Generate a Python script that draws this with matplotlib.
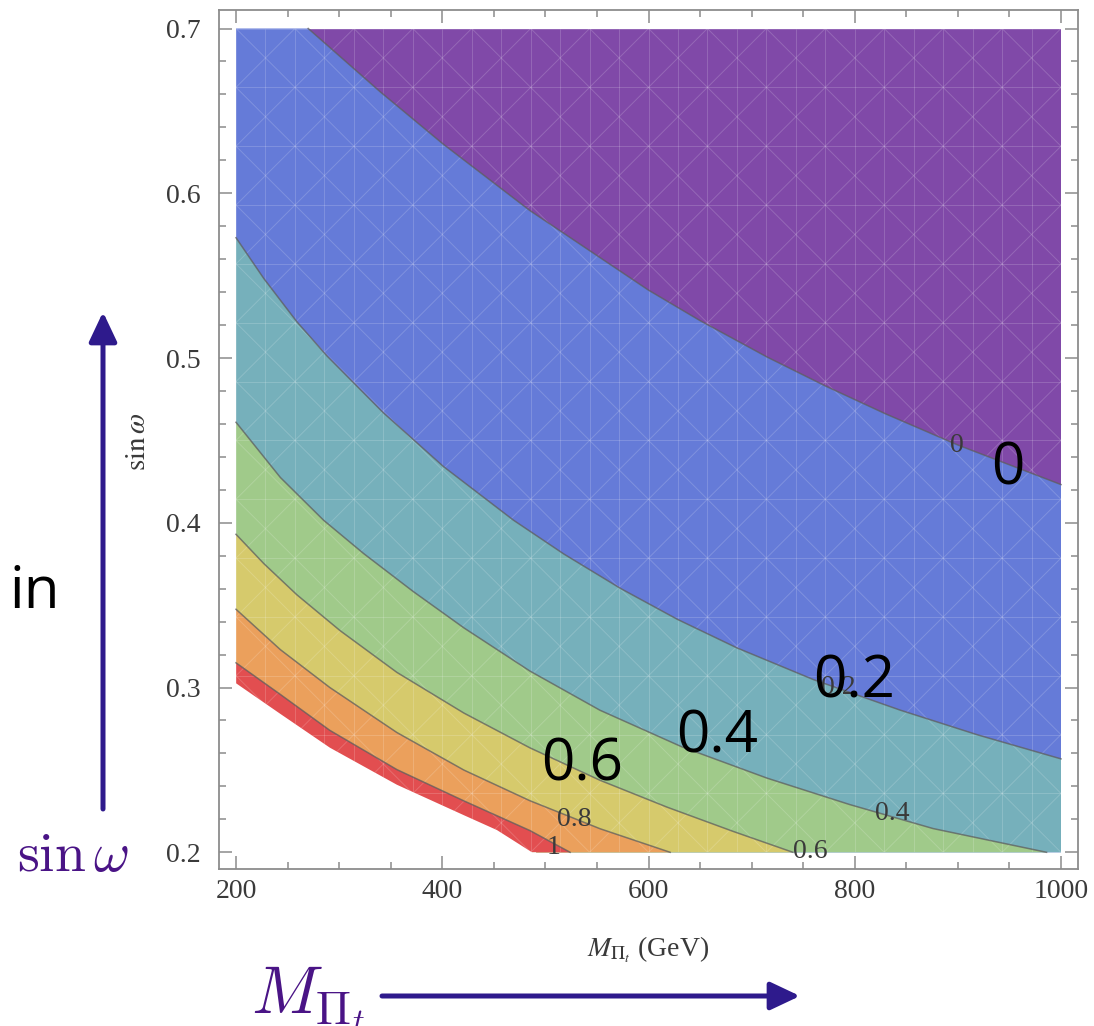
import numpy as np
import matplotlib.pyplot as plt
from matplotlib.collections import LineCollection
from matplotlib.ticker import FixedLocator, MultipleLocator

# contour boundaries: M_Pi_t (GeV) vs sin(omega)
m_c00 = [270, 340, 401, 485, 600, 650, 715, 772, 830, 900, 1000]
s_c00 = [0.700, 0.6615, 0.6298, 0.5895, 0.5412, 0.5227, 0.5006, 0.4829, 0.4661, 0.4472, 0.4232]

m_c02 = [200, 227, 259, 288, 343, 401, 469, 518, 573, 628, 686, 760, 844, 919, 1000]
s_c02 = [0.573, 0.5482, 0.522, 0.5014, 0.4667, 0.4342, 0.4016, 0.381, 0.3601, 0.3414, 0.324,
         0.3048, 0.2863, 0.2713, 0.2567]

m_c04 = [200, 243, 285, 324, 372, 421, 485, 553, 632, 715, 795, 876, 986]
s_c04 = [0.461, 0.4275, 0.4015, 0.3812, 0.3582, 0.3362, 0.310, 0.2862, 0.2641, 0.245, 0.229,
         0.2144, 0.200]

m_c06 = [200, 227, 259, 301, 356, 421, 485, 553, 618, 682, 740]
s_c06 = [0.393, 0.3752, 0.3563, 0.3345, 0.3092, 0.2845, 0.2634, 0.2437, 0.2274, 0.2127, 0.200]

m_c08 = [200, 243, 291, 356, 421, 485, 553, 621]
s_c08 = [0.3475, 0.323, 0.300, 0.2727, 0.2499, 0.2313, 0.2143, 0.200]

m_c10 = [200, 243, 291, 356, 421, 485, 524]
s_c10 = [0.315, 0.2958, 0.2740, 0.2502, 0.2312, 0.2132, 0.200]

# lower edge of the coloured region (no contour line drawn there)
m_edge = [200, 243, 291, 356, 421, 453, 487]
s_edge = [0.3026, 0.284, 0.2635, 0.2410, 0.2225, 0.2135, 0.200]

band_colors = ['#8049a8', '#657bd8', '#76b0bb', '#a0ca8a', '#d6ca6c', '#eba05c', '#e24e50']
contour_labels = ['0', '0.2', '0.4', '0.6', '0.8', '1']

x_ticks = [200, 400, 600, 800, 1000]
y_ticks = [0.2, 0.3, 0.4, 0.5, 0.6, 0.7]

M_MIN, M_MAX = 200, 1000
S_MIN, S_MAX = 0.2, 0.7

W, H = 1094, 1026
fig = plt.figure(figsize=(W / 100, H / 100), dpi=100)
ax = fig.add_axes([219 / W, 1 - 869 / H, (1078 - 219) / W, (869 - 10) / H])
ax.set_xlim(183.5, 1016.5)
ax.set_ylim(0.18986, 0.71123)

serif = 'Liberation Serif'
tick_gray = '#8c8c8c'
text_gray = '#3a3a3a'

# --- filled bands: stack "below curve" polygons on top of the first band ---
ax.fill([M_MIN, M_MAX, M_MAX, M_MIN], [S_MIN, S_MIN, S_MAX, S_MAX],
        color=band_colors[0], lw=0, zorder=1)
curves = [(m_c00, s_c00), (m_c02, s_c02), (m_c04, s_c04), (m_c06, s_c06),
          (m_c08, s_c08), (m_c10, s_c10)]
for (m, s), col in zip(curves, band_colors[1:]):
    xs = list(m) + [m[-1], M_MIN, M_MIN]
    ys = list(s) + [S_MIN, S_MIN, s[0]]
    ax.fill(xs, ys, color=col, lw=0, zorder=1)

# white corner below the last band, pushed a bit past the border to hide seams
pad_m, pad_s = 4, 0.004
ax.fill(list(m_edge) + [m_edge[-1] + pad_m, m_edge[-1] + pad_m, M_MIN - pad_m, M_MIN - pad_m],
        list(s_edge) + [S_MIN, S_MIN - pad_s, S_MIN - pad_s, s_edge[0]],
        color='white', lw=0, zorder=1.5)

# faint mesh like the one Mathematica leaves in the fill
clip = plt.Polygon(list(zip([M_MIN] + list(m_edge) + [M_MAX, M_MAX, M_MIN],
                            [s_edge[0]] + list(s_edge) + [S_MIN, S_MAX, S_MAX])),
                   transform=ax.transData)
dx = (M_MAX - M_MIN) / 28
segs = []
for xv in np.linspace(M_MIN, M_MAX, 29):
    segs.append([(xv, S_MIN), (xv, S_MAX)])
for yv in np.linspace(S_MIN, S_MAX, 15):
    segs.append([(M_MIN, yv), (M_MAX, yv)])
for k in range(-14, 29):
    x0 = M_MIN + 2 * k * dx
    segs.append([(x0, S_MIN), (x0 + (M_MAX - M_MIN), S_MAX)])
    segs.append([(x0, S_MIN), (x0 - (M_MAX - M_MIN), S_MAX)])
mesh = LineCollection(segs, colors='white', linewidths=0.7, alpha=0.17, zorder=2)
mesh.set_clip_path(clip)
ax.add_collection(mesh)

# contour lines
for m, s in curves:
    ax.plot(m, s, color='#5e5e5e', lw=1.1, alpha=0.75, zorder=3,
            solid_joinstyle='round')

# small contour labels
small_pos = [(957, 445), (838, 687), (892, 813), (810, 852), (574, 819), (554, 847)]
for lab, (px, py) in zip(contour_labels, small_pos):
    fig.text(px / W, 1 - py / H, lab, ha='center', va='center', fontsize=20,
             family=serif, color=text_gray, zorder=5)

# big annotation labels
big_pos = [(1008, 469), (854, 682), (717, 737), (582, 765)]
for lab, (px, py) in zip(contour_labels[:4], big_pos):
    fig.text(px / W, 1 - py / H, lab, ha='center', va='center', fontsize=42,
             family='Open Sans', color='black', zorder=6)

# frame & ticks (Mathematica style, ticks inside on all sides)
for sp in ax.spines.values():
    sp.set_color(tick_gray)
    sp.set_linewidth(1.3)
ax.xaxis.set_major_locator(FixedLocator(x_ticks))
ax.xaxis.set_minor_locator(MultipleLocator(50))
ax.yaxis.set_major_locator(FixedLocator(y_ticks))
ax.yaxis.set_minor_locator(MultipleLocator(0.02))
ax.set_xticklabels([str(v) for v in x_ticks])
ax.set_yticklabels(['%.1f' % v for v in y_ticks])
ax.tick_params(which='both', direction='in', top=True, right=True, color=tick_gray,
               width=1.1, labelsize=20, labelcolor=text_gray)
ax.tick_params(which='major', length=9.5)
ax.tick_params(which='minor', length=5)
ax.tick_params(axis='y', pad=13)
ax.tick_params(axis='x', pad=7)
for lab in ax.get_xticklabels() + ax.get_yticklabels():
    lab.set_family(serif)

fig.text(648 / W, 1 - 950 / H, r'$M_{\Pi_t}$ (GeV)', ha='center', va='center',
         fontsize=20, family=serif, math_fontfamily='stix', color=text_gray)
fig.text(138 / W, 1 - 442 / H, r'$\sin\omega$', ha='center', va='center', rotation=90,
         fontsize=21, family=serif, math_fontfamily='stix', color=text_gray)

# slide annotations outside the plot
purple = '#4a1486'
arrow_col = '#2e1a8c'
fig.text(35 / W, 1 - 593 / H, 'in', ha='center', va='center', fontsize=42,
         family='Open Sans', color='black')
fig.text(73 / W, 1 - 856 / H, r'$\sin\omega$', ha='center', va='center',
         fontsize=40, math_fontfamily='cm', color=purple)
fig.text(251 / W, 1 - 1013 / H, r'$M_{\Pi_t}$', ha='left', va='baseline',
         fontsize=48, math_fontfamily='cm', color=purple)

arrow_style = dict(arrowstyle='-|>,head_length=18,head_width=8.5', mutation_scale=1,
                   lw=3.6, color=arrow_col, shrinkA=0, shrinkB=0)
ax.annotate('', xy=(103 / W, 1 - 312 / H), xytext=(103 / W, 1 - 809 / H),
            xycoords='figure fraction', textcoords='figure fraction',
            arrowprops=arrow_style, annotation_clip=False)
ax.annotate('', xy=(800 / W, 1 - 996 / H), xytext=(382 / W, 1 - 996 / H),
            xycoords='figure fraction', textcoords='figure fraction',
            arrowprops=arrow_style, annotation_clip=False)

fig.savefig('out.png', dpi=100)
